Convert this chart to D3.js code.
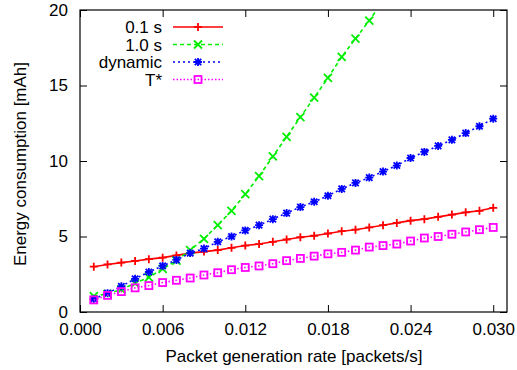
<!DOCTYPE html>
<html><head><meta charset="utf-8">
<script src="https://cdn.jsdelivr.net/npm/d3@7"></script>
<style>body{margin:0;background:#fff}svg{display:block}text{font-family:"Liberation Sans",Arial,sans-serif}</style>
</head><body><svg id="c" width="517" height="370"></svg>
<script>
const rates = [0.001,0.002,0.003,0.004,0.005,0.006,0.007,0.008,0.009,0.010,0.011,0.012,0.013,0.014,0.015,0.016,0.017,0.018,0.019,0.020,0.021,0.022,0.023,0.024,0.025,0.026,0.027,0.028,0.029,0.030];
const s01 = [3.0,3.15,3.27,3.38,3.5,3.6,3.75,3.9,4.0,4.1,4.25,4.4,4.5,4.65,4.8,4.95,5.05,5.2,5.35,5.45,5.6,5.75,5.9,6.05,6.15,6.3,6.45,6.6,6.7,6.9];
const s10 = [1.05,1.2,1.5,1.9,2.3,2.85,3.4,4.1,4.85,5.75,6.7,7.8,9.0,10.3,11.6,12.9,14.2,15.5,16.9,18.1,19.3,20.6];
const sDyn = [0.86,1.25,1.7,2.2,2.65,3.05,3.45,3.9,4.2,4.65,5.0,5.4,5.75,6.15,6.55,6.95,7.3,7.7,8.15,8.55,8.9,9.3,9.7,10.2,10.6,11.0,11.4,11.85,12.3,12.8];
const sT = [0.8,1.1,1.35,1.6,1.75,1.95,2.1,2.25,2.45,2.6,2.8,2.95,3.05,3.2,3.4,3.55,3.7,3.85,3.95,4.1,4.3,4.4,4.5,4.7,4.9,5.0,5.15,5.3,5.45,5.6];
const seriesNames = ["0.1 s","1.0 s","dynamic","T*"];
const xTicks = [0,0.006,0.012,0.018,0.024,0.030];
const yTicks = [0,5,10,15,20];

const svg = d3.select("#c");
const L=80,R=507,T=10,B=312;
const x = d3.scaleLinear().domain([0,0.031]).range([L,R]);
const y = d3.scaleLinear().domain([0,20]).range([B,T]);

const defs = svg.append("defs");
defs.append("clipPath").attr("id","clip").append("rect").attr("x",L).attr("y",T).attr("width",R-L).attr("height",B-T);

const fs = "17px";
const gx = svg.append("g").attr("transform",`translate(0,${B})`)
  .call(d3.axisBottom(x).tickValues(xTicks).tickFormat(d3.format(".3f")).tickSizeInner(-7).tickSizeOuter(0).tickPadding(11));
const gxt = svg.append("g").attr("transform",`translate(0,${T})`)
  .call(d3.axisTop(x).tickValues(xTicks).tickFormat("").tickSizeInner(-7).tickSizeOuter(0));
const gy = svg.append("g").attr("transform",`translate(${L},0)`)
  .call(d3.axisLeft(y).tickValues(yTicks).tickSizeInner(-7).tickSizeOuter(0).tickPadding(12));
const gyr = svg.append("g").attr("transform",`translate(${R},0)`)
  .call(d3.axisRight(y).tickValues(yTicks).tickFormat("").tickSizeInner(-7).tickSizeOuter(0));
[gx,gxt,gy,gyr].forEach(g=>{g.select(".domain").remove();g.selectAll("line").attr("stroke","#000");g.selectAll("text").style("font-size",fs).attr("fill","#000").attr("font-family","Liberation Sans, Arial, sans-serif");});
svg.append("rect").attr("x",L).attr("y",T).attr("width",R-L).attr("height",B-T).attr("fill","none").attr("stroke","#000").attr("stroke-width",1.2);

svg.append("text").attr("x",294).attr("y",362).attr("text-anchor","middle").style("font-size",fs).text("Packet generation rate [packets/s]");
svg.append("text").attr("transform","translate(26,164) rotate(-90)").attr("text-anchor","middle").style("font-size",fs).text("Energy consumption [mAh]");

const series = [
  {name:seriesNames[0],vals:s01,color:"#ff0000",dash:null,sym:"plus"},
  {name:seriesNames[1],vals:s10,color:"#00ee00",dash:"4,3",sym:"x"},
  {name:seriesNames[2],vals:sDyn,color:"#0000ff",dash:"2,3",sym:"star"},
  {name:seriesNames[3],vals:sT,color:"#ff00ff",dash:"1.5,2",sym:"sq"}
];
function marker(g,sym,cx,cy,color){
  const s=4;
  if(sym==="plus"){
    g.append("path").attr("d",`M${cx-s},${cy}H${cx+s}M${cx},${cy-s}V${cy+s}`).attr("stroke",color).attr("stroke-width",1.8).attr("fill","none");
  } else if(sym==="x"){
    g.append("path").attr("d",`M${cx-s},${cy-s}L${cx+s},${cy+s}M${cx-s},${cy+s}L${cx+s},${cy-s}`).attr("stroke",color).attr("stroke-width",1.8).attr("fill","none");
  } else if(sym==="star"){
    g.append("path").attr("d",`M${cx-s},${cy}H${cx+s}M${cx},${cy-s}V${cy+s}M${cx-s+0.8},${cy-s+0.8}L${cx+s-0.8},${cy+s-0.8}M${cx-s+0.8},${cy+s-0.8}L${cx+s-0.8},${cy-s+0.8}`).attr("stroke",color).attr("stroke-width",1.8).attr("fill","none");
  } else {
    g.append("rect").attr("x",cx-s+0.5).attr("y",cy-s+0.5).attr("width",2*s-1).attr("height",2*s-1).attr("stroke",color).attr("stroke-width",1.8).attr("fill","none");
  }
}
const plot = svg.append("g").attr("clip-path","url(#clip)");
const line = d3.line().x(d=>x(d[0])).y(d=>y(d[1]));
series.forEach(s=>{
  const pts = s.vals.map((v,i)=>[rates[i],v]);
  plot.append("path").datum(pts).attr("d",line).attr("fill","none").attr("stroke",s.color).attr("stroke-width",1.6).attr("stroke-dasharray",s.dash);
  pts.forEach(p=>marker(plot,s.sym,x(p[0]),y(p[1]),s.color));
});
series.forEach((s,i)=>{
  const ly = 27 + i*17.5;
  svg.append("text").attr("x",162).attr("y",ly+6).attr("text-anchor","end").style("font-size",fs).text(s.name);
  svg.append("line").attr("x1",173).attr("x2",223).attr("y1",ly).attr("y2",ly).attr("stroke",s.color).attr("stroke-width",1.6).attr("stroke-dasharray",s.dash);
  marker(svg,s.sym,198,ly,s.color);
});
</script></body></html>
